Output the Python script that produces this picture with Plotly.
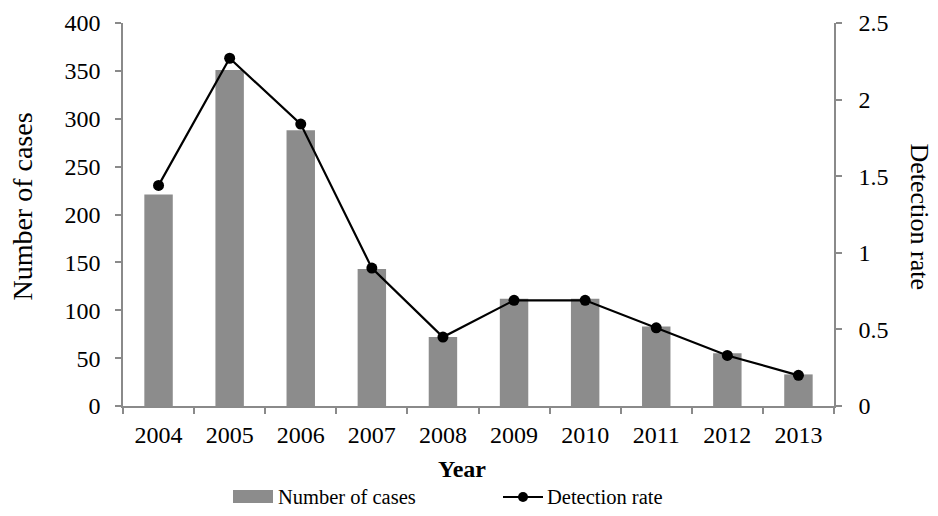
import plotly.graph_objects as go

years = ["2004", "2005", "2006", "2007", "2008", "2009", "2010", "2011", "2012", "2013"]
cases = [221, 351, 288, 143, 72, 112, 112, 83, 55, 33]
rate = [1.44, 2.27, 1.84, 0.90, 0.45, 0.69, 0.69, 0.51, 0.33, 0.20]
cases_name = "Number of cases"
rate_name = "Detection rate"

FONT = "Liberation Serif, Times New Roman, serif"
BAR = "#8c8c8c"
AX = "#8a8a8a"

fig = go.Figure()
fig.add_trace(go.Bar(x=years, y=cases, name=cases_name, marker=dict(color=BAR, line=dict(width=0)),
                     width=0.4, showlegend=False))
fig.add_trace(go.Scatter(x=years, y=rate, name=rate_name, yaxis="y2", mode="lines+markers",
                         line=dict(color="black", width=2.2), marker=dict(color="black", size=11),
                         showlegend=False))

axis_common = dict(showline=True, linecolor=AX, linewidth=1.5, ticks="outside", tickcolor=AX,
                   ticklen=6, tickwidth=1.5, showgrid=False, zeroline=False,
                   tickfont=dict(family=FONT, size=24, color="black"))

fig.update_layout(
    width=938, height=516,
    margin=dict(l=123, r=104, t=23, b=110, autoexpand=False),
    paper_bgcolor="white", plot_bgcolor="white",
    font=dict(family=FONT, color="black"),
    bargap=0.6,
    xaxis=dict(type="category", tickson="boundaries", ticklabelstandoff=6,
               range=[-0.5, len(years) - 0.5], **axis_common),
    yaxis=dict(range=[0, 400], dtick=50, ticklabelstandoff=10, **axis_common),
    yaxis2=dict(range=[0, 2.5], dtick=0.5, overlaying="y", side="right", ticklabelstandoff=12,
                **axis_common),
)

# axis titles
fig.add_annotation(text=cases_name, xref="paper", yref="paper", x=-0.141, y=0.52, textangle=-90,
                   showarrow=False, font=dict(family=FONT, size=28, color="black"),
                   xanchor="center", yanchor="middle")
fig.add_annotation(text=rate_name, xref="paper", yref="paper", x=(920-123)/711, y=0.495, textangle=90,
                   showarrow=False, font=dict(family=FONT, size=26, color="black"),
                   xanchor="center", yanchor="middle")
fig.add_annotation(text="<b>Year</b>", xref="paper", yref="paper", x=(462-123)/711, y=-(469-406)/383,
                   showarrow=False, font=dict(family=FONT, size=24, color="black"),
                   xanchor="center", yanchor="middle")

# custom legend
fig.add_shape(type="rect", xref="paper", yref="paper", x0=(233-123)/711, x1=(273-123)/711,
              y0=-(490-406)/383, y1=-(503-406)/383, fillcolor=BAR, line=dict(width=0))
fig.add_annotation(text=cases_name, xref="paper", yref="paper", x=(276-123)/711, y=-(497-406)/383,
                   showarrow=False, xanchor="left", yanchor="middle",
                   font=dict(family=FONT, size=20.5, color="black"))
fig.add_shape(type="line", xref="paper", yref="paper", x0=(503-123)/711, x1=(543-123)/711,
              y0=-(497-406)/383, y1=-(497-406)/383, line=dict(color="black", width=2.2))
fig.add_shape(type="circle", xref="paper", yref="paper", x0=(518-123)/711, x1=(528-123)/711,
              y0=-(492-406)/383, y1=-(502-406)/383, fillcolor="black", line=dict(width=0))
fig.add_annotation(text=rate_name, xref="paper", yref="paper", x=(545-123)/711, y=-(497-406)/383,
                   showarrow=False, xanchor="left", yanchor="middle",
                   font=dict(family=FONT, size=20.5, color="black"))

fig.write_html("out.html", config={"displayModeBar": False},
               post_script="document.body.style.margin='0';document.documentElement.style.overflow='hidden';")
